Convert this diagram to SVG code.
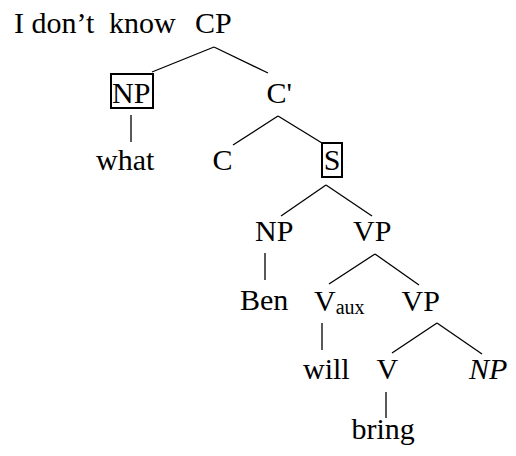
<svg xmlns="http://www.w3.org/2000/svg" width="516" height="456" viewBox="0 0 516 456">
<style>
.t text{font-size:30px;fill:#000}
.sub{font-size:20px}
.it{font-style:italic}
.e line{stroke:#000;stroke-width:1.3}
.box{fill:none;stroke:#000;stroke-width:2}
</style>
<rect width="516" height="456" fill="#fff"/>
<g id="edges" class="e">
<line x1="214" y1="47" x2="152" y2="72"/>
<line x1="214" y1="47" x2="268" y2="73"/>
<line x1="131" y1="115" x2="131" y2="142"/>
<line x1="278" y1="116" x2="233" y2="145"/>
<line x1="278" y1="116" x2="322" y2="143"/>
<line x1="326" y1="185" x2="281" y2="216"/>
<line x1="326" y1="185" x2="372" y2="216"/>
<line x1="265" y1="253" x2="265" y2="280"/>
<line x1="375" y1="254" x2="329" y2="284"/>
<line x1="375" y1="254" x2="419" y2="285"/>
<line x1="322" y1="323" x2="322" y2="350"/>
<line x1="437" y1="323" x2="392" y2="353"/>
<line x1="437" y1="323" x2="482" y2="354"/>
<line x1="386" y1="392" x2="386" y2="418"/>
</g>
<g class="t" font-family="Liberation Serif, Times New Roman, DejaVu Serif, serif">
<g id="intro"><text x="14" y="33">I don’t<tspan x="109">know</tspan></text></g>
<g id="cp"><text x="195" y="33">CP</text></g>
<g id="np1"><rect class="box" x="111" y="74" width="42" height="34"/><text x="112" y="103">NP</text></g>
<g id="cbar"><text x="266.5" y="103">C'</text></g>
<g id="what"><text x="96" y="170">what</text></g>
<g id="c"><text x="212.5" y="170">C</text></g>
<g id="s"><rect class="box" x="322" y="143" width="20" height="34"/><text x="332" y="170" text-anchor="middle">S</text></g>
<g id="np2"><text x="255" y="241">NP</text></g>
<g id="vp1"><text x="353" y="241">VP</text></g>
<g id="ben"><text x="240" y="310">Ben</text></g>
<g id="vaux"><text x="314" y="311">V<tspan class="sub" y="314">aux</tspan></text></g>
<g id="vp2"><text x="401.5" y="311">VP</text></g>
<g id="will"><text x="303" y="379">will</text></g>
<g id="v"><text x="376.5" y="379">V</text></g>
<g id="np3"><text class="it" x="469" y="379">NP</text></g>
<g id="bring"><text x="351.5" y="439">bring</text></g>
</g>
</svg>
